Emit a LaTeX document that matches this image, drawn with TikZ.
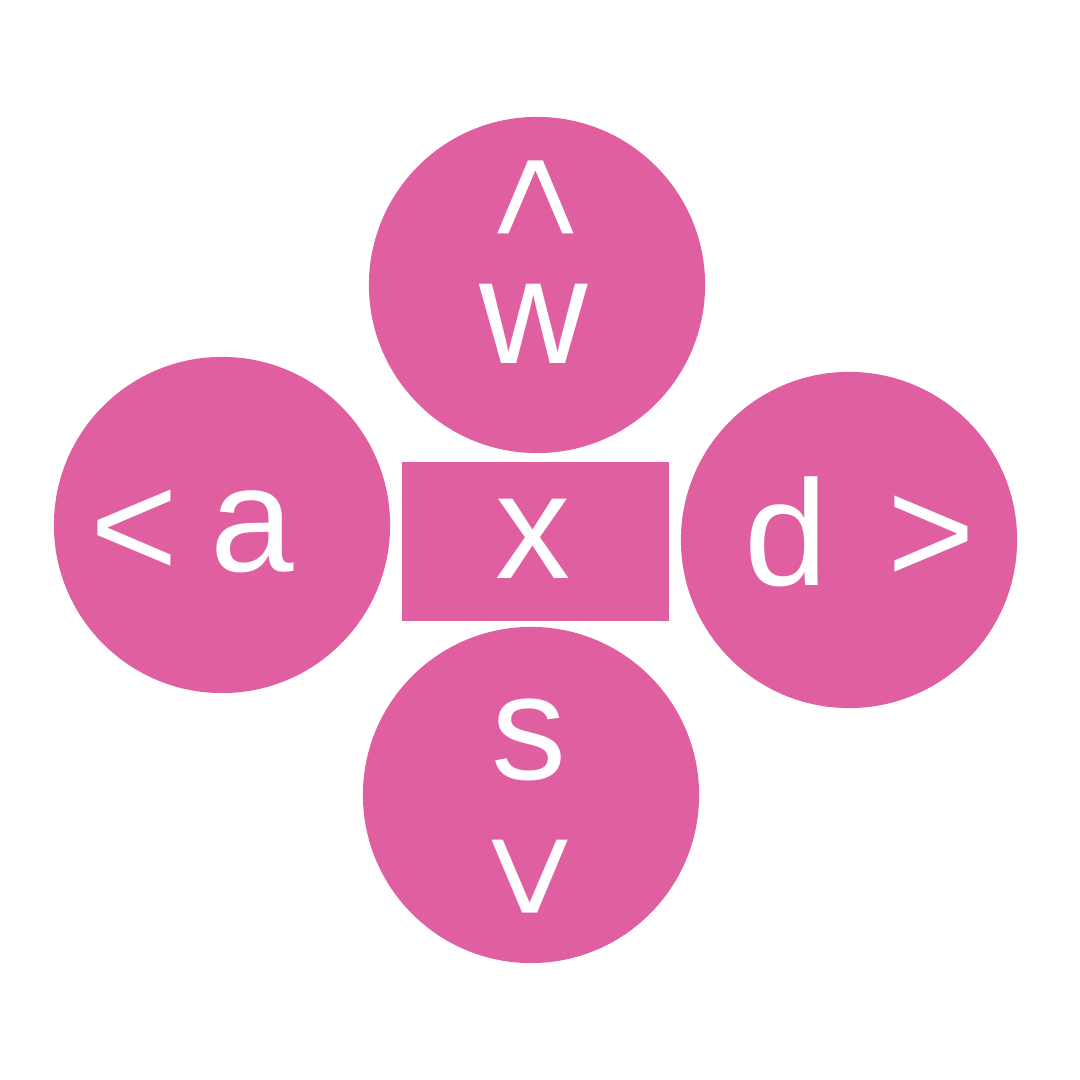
\documentclass[tikz,border=0pt]{standalone}
\usepackage{fontspec}
\setmainfont{Liberation Sans}
\usetikzlibrary{positioning}
\definecolor{keypink}{RGB}{223,95,160}

\begin{document}
\begin{tikzpicture}[
  x=0.01cm,y=0.01cm,
  key/.style={circle, fill=keypink, minimum size=3.36cm, inner sep=0pt},
  pad/.style={rectangle, fill=keypink, minimum width=2.67cm, minimum height=1.59cm, inner sep=0pt},
  glyph/.style={text=white, font=\fontsize{42.7}{51}\selectfont, inner sep=0pt}
]

% Canvas, 1080 x 1080 units
\useasboundingbox (0,0) rectangle (1080,1080);

% Direction keys
\node[key] (keyW) at (537,795) {};
\node[key] (keyA) at (222,555) {};
\node[key] (keyD) at (849,540) {};
\node[key] (keyS) at (531,285) {};

% Centre key
\node[pad] (keyX) at (535.5,538.5) {};

% Key captions
\node[glyph, rotate=-90] (upArrow) at (530,883) {<};
\node[glyph, anchor=base] (lblW) at (534,716) {w};
\node[glyph] (leftArrow) at (134,546) {<};
\node[glyph, anchor=base] (lblA) at (252,508) {a};
\node[glyph, anchor=base] (lblX) at (533,501) {x};
\node[glyph, anchor=base] (lblD) at (786,494) {d};
\node[glyph] (rightArrow) at (931,540.5) {>};
\node[glyph, anchor=base] (lblS) at (529,300) {s};
\node[glyph, rotate=90] (downArrow) at (536,203) {<};

\end{tikzpicture}
\end{document}
